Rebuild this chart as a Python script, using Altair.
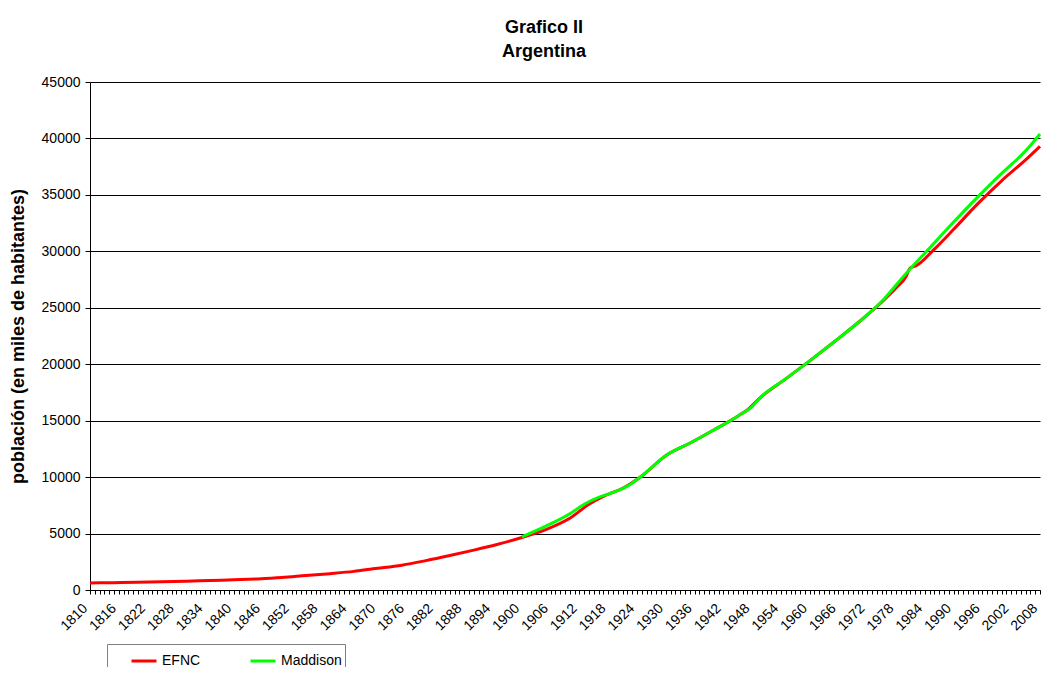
import altair as alt
import pandas as pd

# EFNC series (miles de habitantes)
efnc_years = [1810, 1815, 1820, 1825, 1830, 1835, 1840, 1845, 1850, 1855,
              1860, 1865, 1869, 1875, 1880, 1885, 1890, 1895, 1900, 1905,
              1910, 1914, 1917, 1921, 1925, 1930, 1935, 1940, 1945, 1947,
              1950, 1955, 1960, 1965, 1970, 1975, 1978, 1980, 1981, 1982,
              1986, 1990, 1995, 2000, 2005, 2008]
efnc_values = [620, 650, 690, 730, 780, 840, 900, 980, 1100, 1280,
               1450, 1650, 1880, 2200, 2600, 3050, 3530, 4050, 4650, 5350,
               6350, 7600, 8300, 9000, 10100, 11900, 13000, 14170, 15400, 15950,
               17150, 18700, 20300, 21950, 23650, 25500, 26750, 27700, 28550, 28680,
               30200, 31950, 34200, 36250, 38100, 39300]

# Maddison series
maddison_years = [1900, 1905, 1910, 1913, 1916, 1918, 1920, 1922, 1925, 1930,
                  1935, 1940, 1945, 1948, 1950, 1955, 1960, 1965, 1970, 1975,
                  1980, 1985, 1990, 1995, 2000, 2005, 2008]
maddison_values = [4700, 5650, 6750, 7600, 8200, 8500, 8800, 9200, 10100, 11900,
                   13000, 14170, 15400, 16250, 17150, 18700, 20300, 21950, 23650, 25550,
                   28000, 30300, 32600, 34800, 36900, 38900, 40400]

series_names = ["EFNC", "Maddison"]
series_colors = ["#FF0000", "#00FF00"]
y_ticks = list(range(0, 45001, 5000))
x_ticks = list(range(1810, 2009))

df = pd.concat([
    pd.DataFrame({"year": efnc_years, "value": efnc_values, "series": "EFNC"}),
    pd.DataFrame({"year": maddison_years, "value": maddison_values, "series": "Maddison"}),
])

FONT = "Liberation Sans"

chart = alt.Chart(df).mark_line(strokeWidth=3, interpolate="monotone").encode(
    x=alt.X("year:Q",
            scale=alt.Scale(domain=[1810, 2008], nice=False, zero=False),
            axis=alt.Axis(values=x_ticks, format="d",
                          labelExpr="(datum.value - 1810) % 6 == 0 ? datum.label : ''",
                          labelAngle=-45, labelAlign="right", labelBaseline="middle",
                          labelPadding=12, labelOffset=-5, tickSize=4,
                          labelOverlap=False, grid=False,
                          title=None, labelFontSize=14, labelFont=FONT,
                          domainColor="#000000", tickColor="#000000", labelColor="#000000")),
    y=alt.Y("value:Q",
            scale=alt.Scale(domain=[0, 45000], nice=False),
            axis=alt.Axis(values=y_ticks, format="d",
                          title="población (en miles de habitantes)",
                          titleFont=FONT, titleFontSize=18, titleFontWeight="bold",
                          titleColor="#000000", titleX=-72, titleY=254,
                          titleAngle=-90, titleBaseline="middle",
                          labelFontSize=14, labelFont=FONT, labelColor="#000000",
                          labelPadding=5, tickSize=5, tickColor="#000000",
                          domainColor="#000000", gridColor="#000000", gridWidth=1)),
    color=alt.Color("series:N",
                    scale=alt.Scale(domain=series_names, range=series_colors),
                    legend=alt.Legend(title=None, orient="none", legendX=17, legendY=562,
                                      direction="horizontal", symbolType="stroke",
                                      symbolSize=625, symbolStrokeWidth=3,
                                      strokeColor="#808080", fillColor="#FFFFFF",
                                      padding=3, symbolOffset=20, columnPadding=28,
                                      labelFontSize=14, labelFont=FONT,
                                      labelColor="#000000")),
).properties(
    width=950,
    height=508,
    padding={"left": 82, "top": 74, "right": 5, "bottom": 77},
    autosize=alt.AutoSizeParams(type="none"),
    title=alt.TitleParams(text=["Grafico II", "Argentina"], font=FONT, fontSize=18,
                          fontWeight="bold", lineHeight=24, anchor="middle",
                          dx=-21, offset=14, color="#000000"),
).configure_view(stroke="transparent")

chart.save("out.html", embed_options={"renderer": "svg", "actions": False})
